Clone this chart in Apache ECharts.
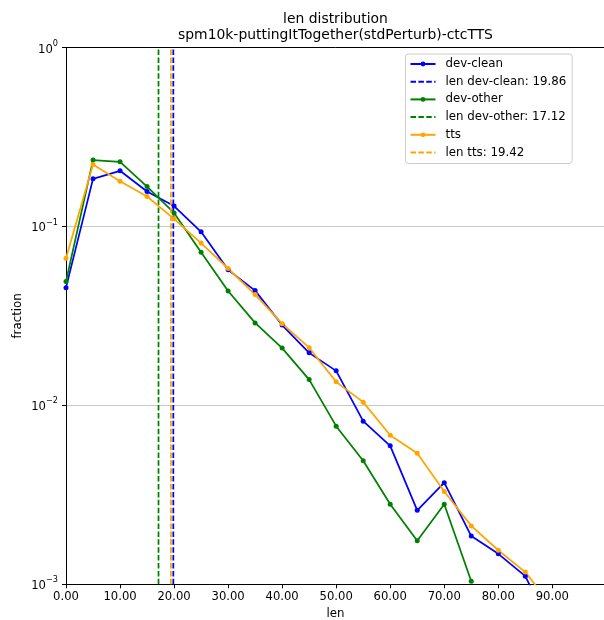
<!DOCTYPE html>
<html>
<head>
<meta charset="utf-8">
<script src="https://cdn.jsdelivr.net/npm/echarts@6/dist/echarts.min.js"></script>
<style>
  html, body { margin: 0; padding: 0; background: #ffffff; }
  #chart { width: 604px; height: 620px; }
</style>
</head>
<body>
<div id="chart"></div>
<script>
// Length bins (x) and fraction of utterances per bin for each set
const lens = [0, 5, 10, 15, 20, 25, 30, 35, 40, 45, 50, 55, 60, 65, 70, 75, 80, 85, 90];
const devClean = [0.0455, 0.1845, 0.2046, 0.1567, 0.1299, 0.0933, 0.0572, 0.0438, 0.0281, 0.01965,
                  0.01559, 0.00816, 0.00594, 0.00259, 0.0037, 0.00186, 0.00148, 0.00111, 0.00055];
const devOther = [0.0492, 0.2348, 0.2297, 0.167, 0.119, 0.0718, 0.0436, 0.0289, 0.0209, 0.01393,
                  0.00765, 0.0049, 0.0028, 0.00175, 0.0028, 0.00104, null, null, null];
const tts      = [0.0665, 0.2218, 0.179, 0.147, 0.1103, 0.0807, 0.0582, 0.0416, 0.0286, 0.021,
                  0.01353, 0.01042, 0.00681, 0.0054, 0.0033, 0.00212, 0.00155, 0.00117, 0.00075];

// Mean lengths shown as dashed vertical lines
const meanDevClean = 19.86;
const meanDevOther = 17.12;
const meanTts = 19.42;

// Axis ranges
const xRange = [0, 99.75];
const yRange = [0.001, 1];

const FONT = 'DejaVu Sans';
const pairs = (ys) => lens.map((x, i) => [x, ys[i]]);
const vline = (x) => [[x, yRange[0]], [x, yRange[1]]];

const dataSeries = (name, color, ys) => ({
  name, type: 'line', data: pairs(ys),
  symbol: 'circle', symbolSize: 5, showSymbol: true,
  connectNulls: false, clip: true,
  lineStyle: { color, width: 1.75 },
  itemStyle: { color },
  emphasis: { disabled: true }
});
const meanSeries = (name, color, x) => ({
  name, type: 'line', data: vline(x),
  symbol: 'none', clip: true,
  lineStyle: { color, width: 1.75, type: [5.5, 2.4] },
  itemStyle: { color },
  emphasis: { disabled: true }
});

// Legend entries; the mean lines show only a dashed stroke (no marker)
const noMarker = { color: 'rgba(0,0,0,0)', borderColor: 'rgba(0,0,0,0)', borderWidth: 0, opacity: 0 };
const legendItems = [
  { name: 'dev-clean' },
  { name: 'len dev-clean: 19.86', itemStyle: noMarker },
  { name: 'dev-other' },
  { name: 'len dev-other: 17.12', itemStyle: noMarker },
  { name: 'tts' },
  { name: 'len tts: 19.42', itemStyle: noMarker }
];

const supLabel = (v) => {
  const e = Math.round(Math.log10(v));
  return '{b|10}{s|' + (e < 0 ? '\u2212' + (-e) : String(e)) + '}';
};

const chart = echarts.init(document.getElementById('chart'), null, { renderer: 'canvas' });
chart.setOption({
  animation: false,
  backgroundColor: '#ffffff',
  textStyle: { fontFamily: FONT },
  title: {
    text: 'len distribution\nspm10k-puttingItTogether(stdPerturb)-ctcTTS',
    left: 335.5, top: 11.5, textAlign: 'center', padding: 0,
    textStyle: { fontFamily: FONT, fontSize: 13.9, lineHeight: 16, fontWeight: 'normal', color: '#000' }
  },
  legend: {
    orient: 'vertical', left: 405.5, top: 54,
    padding: [4, 6, 5, 4],
    itemWidth: 25, itemHeight: 6, itemGap: 5.7,
    backgroundColor: '#ffffff', borderColor: '#cccccc', borderWidth: 1, borderRadius: 3,
    textStyle: { fontFamily: FONT, fontSize: 11.8, lineHeight: 12, color: '#000', padding: [0, 0, 0, 5] },
    data: legendItems
  },
  grid: {
    left: 66, top: 47.5, width: 539, height: 536.8,
    outerBoundsMode: 'none', containLabel: false,
    show: false
  },
  xAxis: [{
    type: 'value', min: xRange[0], max: xRange[1], interval: 10,
    name: 'len', nameLocation: 'middle', nameGap: 24, nameMoveOverlap: false,
    nameTextStyle: { fontFamily: FONT, fontSize: 11.8, color: '#000' },
    axisLine: { lineStyle: { color: '#000', width: 1 } },
    axisTick: { length: 4, lineStyle: { color: '#000' } },
    splitLine: { show: false },
    axisLabel: {
      fontFamily: FONT, fontSize: 11.6, color: '#000', margin: 7, showMaxLabel: false,
      formatter: (v) => (Math.abs(v % 10) < 1e-9 ? v.toFixed(2) : '')
    }
  }, {
    // top frame line of the axes box
    type: 'value', position: 'top', min: xRange[0], max: xRange[1], z: 10,
    axisLine: { show: true, onZero: false, lineStyle: { color: '#000', width: 1 } },
    axisTick: { show: false }, axisLabel: { show: false }, splitLine: { show: false }
  }],
  yAxis: {
    type: 'log', logBase: 10, min: yRange[0], max: yRange[1],
    name: 'fraction', nameLocation: 'middle', nameGap: 42, nameMoveOverlap: false,
    nameTextStyle: { fontFamily: FONT, fontSize: 11.8, color: '#000' },
    axisLine: { lineStyle: { color: '#000', width: 1 } },
    axisTick: { length: 4, lineStyle: { color: '#000' } },
    minorTick: { show: false },
    splitLine: { show: true, lineStyle: { color: '#c8c8c8', width: 1 } },
    axisLabel: {
      color: '#000', margin: 8,
      formatter: supLabel,
      rich: {
        b: { fontFamily: FONT, fontSize: 11.6, lineHeight: 16, verticalAlign: 'bottom', color: '#000' },
        s: { fontFamily: FONT, fontSize: 8.2, lineHeight: 16, verticalAlign: 'top', color: '#000' }
      }
    }
  },
  series: [
    dataSeries('dev-clean', '#0000ff', devClean),
    meanSeries('len dev-clean: 19.86', '#0000ff', meanDevClean),
    dataSeries('dev-other', '#008000', devOther),
    meanSeries('len dev-other: 17.12', '#008000', meanDevOther),
    dataSeries('tts', '#ffa500', tts),
    meanSeries('len tts: 19.42', '#ffa500', meanTts)
  ]
});
</script>
</body>
</html>
